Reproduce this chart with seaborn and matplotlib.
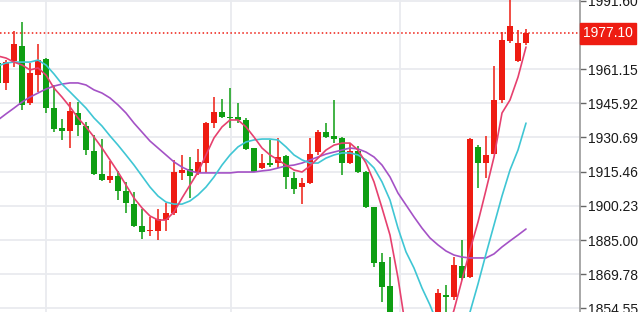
import matplotlib
matplotlib.use("Agg")
import matplotlib.pyplot as plt
import matplotlib.transforms as mtransforms
import numpy as np
import pandas as pd
import seaborn as sns

# ---------------- data ----------------
opens = [1963.9, 1955.0, 1964.8, 1971.5, 1946.1, 1958.5, 1965.7, 1943.8, 1934.9, 1933.6,
         1941.6, 1935.8, 1924.7, 1914.4, 1911.7, 1913.5, 1906.8, 1901.0, 1891.2, 1889.0,
         1889.0, 1893.9, 1897.0, 1914.9, 1916.6, 1914.9, 1919.3, 1937.1, 1942.0, 1939.8,
         1939.8, 1938.5, 1926.0, 1917.1, 1919.3, 1919.3, 1922.4, 1912.6, 1908.6, 1910.4,
         1924.2, 1933.1, 1931.4, 1930.5, 1919.3, 1924.7, 1915.3, 1899.7, 1875.2, 1864.5,
         1845.0, 1836.0, 1829.0, 1833.0, 1828.0, 1847.1, 1860.5, 1859.6, 1873.4, 1868.5,
         1926.5, 1919.3, 1923.3, 1947.4, 1973.7, 1964.8, 1972.8]
highs = [1965.2, 1965.2, 1978.2, 1982.2, 1963.9, 1972.4, 1966.1, 1954.1, 1938.9, 1946.5,
         1946.5, 1937.6, 1931.8, 1930.0, 1920.2, 1915.8, 1910.9, 1906.4, 1898.8, 1895.3,
         1898.8, 1901.5, 1920.7, 1922.9, 1922.0, 1925.6, 1937.6, 1948.7, 1947.8, 1952.7,
         1946.1, 1939.4, 1926.0, 1923.3, 1929.6, 1930.5, 1922.9, 1915.3, 1912.6, 1930.5,
         1934.0, 1937.1, 1947.4, 1930.9, 1928.2, 1926.9, 1915.8, 1899.7, 1879.2, 1877.4,
         1849.0, 1840.0, 1838.0, 1836.0, 1848.0, 1863.2, 1864.9, 1877.4, 1885.0, 1930.5,
         1927.3, 1931.4, 1962.6, 1977.7, 1994.0, 1978.6, 1979.0]
lows = [1953.6, 1951.9, 1962.1, 1942.9, 1945.2, 1951.0, 1941.6, 1933.1, 1929.6, 1926.0,
        1931.4, 1922.9, 1914.0, 1911.3, 1910.4, 1902.8, 1897.0, 1890.8, 1885.4, 1886.8,
        1885.0, 1889.0, 1896.1, 1911.7, 1903.7, 1914.0, 1914.9, 1934.9, 1939.4, 1934.9,
        1937.1, 1925.1, 1915.3, 1916.6, 1917.5, 1917.1, 1907.7, 1905.5, 1901.0, 1910.0,
        1922.9, 1930.5, 1928.2, 1914.0, 1918.9, 1914.9, 1899.3, 1873.0, 1857.4, 1842.7,
        1832.0, 1825.0, 1826.0, 1824.0, 1826.0, 1844.9, 1851.6, 1858.3, 1867.2, 1868.1,
        1908.2, 1912.6, 1923.3, 1946.1, 1972.8, 1964.3, 1971.9]
closes = [1955.0, 1964.3, 1972.4, 1945.2, 1959.4, 1965.2, 1943.8, 1934.5, 1933.6, 1942.5,
          1936.3, 1925.1, 1914.4, 1911.7, 1913.5, 1906.8, 1901.5, 1891.2, 1888.6, 1889.5,
          1894.4, 1897.0, 1915.3, 1916.2, 1913.5, 1919.8, 1937.1, 1942.0, 1939.8, 1939.2,
          1938.5, 1925.6, 1915.3, 1919.3, 1918.4, 1922.0, 1913.1, 1907.7, 1910.4, 1923.3,
          1933.1, 1930.9, 1930.0, 1919.3, 1924.7, 1915.3, 1899.7, 1874.7, 1864.0, 1844.9,
          1836.0, 1829.0, 1833.0, 1828.0, 1846.0, 1861.4, 1859.6, 1873.9, 1868.1, 1930.0,
          1919.3, 1922.9, 1947.4, 1974.1, 1980.4, 1972.8, 1977.1]

ma_fast = [1967.0, 1966.1, 1964.3, 1963.0, 1960.8, 1961.7, 1958.5, 1952.7, 1948.7, 1944.3,
           1939.4, 1935.4, 1930.9, 1926.0, 1920.7, 1915.3, 1909.5, 1903.7, 1899.3, 1895.7,
           1893.9, 1893.9, 1897.5, 1903.7, 1909.5, 1915.3, 1922.9, 1930.5, 1935.4, 1938.5,
           1938.5, 1935.4, 1930.9, 1926.0, 1922.9, 1920.7, 1918.4, 1916.2, 1915.3, 1918.0,
           1921.5, 1925.1, 1927.3, 1928.2, 1928.2, 1925.1, 1919.3, 1910.9, 1899.3, 1887.2,
           1868.1, 1844.9, 1836.0, 1831.5, 1831.5, 1836.0, 1842.7, 1853.8, 1867.2, 1880.5,
           1893.0, 1907.3, 1922.0, 1941.6, 1947.4, 1957.6, 1971.0]
ma_mid = [1962.6, 1963.9, 1964.3, 1964.3, 1964.3, 1965.2, 1963.0, 1959.0, 1954.5, 1951.0,
          1947.4, 1943.8, 1939.4, 1935.8, 1931.4, 1927.3, 1922.9, 1918.4, 1913.5, 1908.6,
          1904.6, 1901.9, 1901.0, 1901.0, 1902.4, 1905.1, 1908.6, 1913.1, 1918.4, 1922.9,
          1926.5, 1928.7, 1929.6, 1930.0, 1930.0, 1929.6, 1926.5, 1922.9, 1920.7, 1919.3,
          1919.3, 1921.5, 1922.9, 1923.8, 1923.8, 1922.9, 1920.7, 1917.1, 1910.9, 1902.8,
          1890.3, 1879.7, 1872.5, 1863.6, 1856.0, 1847.1, 1841.3, 1840.4, 1844.9, 1852.9,
          1865.4, 1878.8, 1891.7, 1904.6, 1916.2, 1925.1, 1937.1]
ma_slow = [1938.5, 1941.2, 1943.8, 1946.5, 1948.7, 1950.5, 1952.3, 1953.6, 1954.5, 1955.0,
           1955.0, 1954.1, 1951.9, 1950.5, 1948.3, 1945.2, 1941.6, 1937.1, 1933.1, 1929.1,
           1926.0, 1922.9, 1919.8, 1917.5, 1915.8, 1914.9, 1914.9, 1914.9, 1914.9, 1914.9,
           1915.3, 1915.3, 1915.3, 1915.8, 1916.2, 1917.1, 1918.0, 1918.4, 1919.3, 1920.7,
           1922.0, 1923.3, 1924.2, 1925.1, 1926.0, 1925.6, 1924.2, 1922.0, 1918.4, 1913.1,
           1905.9, 1900.6, 1895.3, 1890.3, 1885.9, 1882.8, 1880.1, 1878.3, 1877.4, 1877.0,
           1877.0, 1877.0, 1878.8, 1881.9, 1884.6, 1887.2, 1889.9]

tick_values = [1854.55, 1869.78, 1885.00, 1900.23, 1915.46, 1930.69, 1945.92, 1961.15, 1991.60]
tick_labels = ["1854.55", "1869.78", "1885.00", "1900.23", "1915.46", "1930.69",
               "1945.92", "1961.15", "1991.60"]
last_price = 1977.10
last_label = "1977.10"

# ---------------- styling ----------------
UP = "#ee1c12"
DOWN = "#0e9e12"
C_FAST = "#e6406e"
C_MID = "#3fc6d4"
C_SLOW = "#a452c6"
GRID = "#e9ebef"

sns.set_style("white")
plt.rcParams["font.family"] = ["Liberation Sans", "DejaVu Sans"]

fig = plt.figure(figsize=(6.38, 3.12), dpi=100)
ax = fig.add_axes([0, 0, 580 / 638, 1])

n = len(opens)
idx = np.arange(n)
o = np.array(opens); c = np.array(closes)
h = np.array(highs); l = np.array(lows)
up = c >= o
cols = np.where(up, UP, DOWN)

# grid
for v in tick_values:
    ax.axhline(v, color=GRID, lw=1.3, zorder=0)
for gx in [6.0, 29.1, 50.25]:
    ax.axvline(gx, color=GRID, lw=1.3, zorder=0)

# candles
ax.vlines(idx, l, h, colors=cols, lw=1.1, zorder=2)
body_lo = np.minimum(o, c)
body_h = np.maximum(np.abs(c - o), 0.5)
ax.bar(idx, body_h, bottom=body_lo, width=0.72, color=cols, linewidth=0, zorder=2)

# moving averages through seaborn
df = pd.DataFrame({
    "i": np.concatenate([idx, idx, idx]),
    "v": np.concatenate([ma_slow, ma_mid, ma_fast]),
    "ma": ["slow"] * n + ["mid"] * n + ["fast"] * n,
})
sns.lineplot(data=df, x="i", y="v", hue="ma",
             palette={"slow": C_SLOW, "mid": C_MID, "fast": C_FAST},
             lw=1.2, legend=False, ax=ax, zorder=3)

# current price
ax.axhline(last_price, color=UP, lw=1.1, ls=(0, (1, 1.6)), zorder=4)

ax.set_xlim(0.25, 72.75)
ax.set_ylim(1852.91, 1991.97)
ax.set_xlabel("")
ax.set_ylabel("")
ax.set_xticks([])
ax.yaxis.tick_right()
ax.set_yticks(tick_values)
ax.set_yticklabels(tick_labels)
ax.tick_params(axis="y", which="both", right=True, length=4, width=1,
               color="#666666", labelsize=10, labelcolor="#1a1a1a", pad=2)
for s in ["top", "left", "bottom"]:
    ax.spines[s].set_visible(False)
ax.spines["right"].set_color("#9a9a9a")
ax.spines["right"].set_linewidth(1.2)

trans = mtransforms.blended_transform_factory(ax.transAxes, ax.transData)
ax.text(1.0 + 3 / 580, last_price, last_label, transform=trans, ha="left", va="center",
        fontsize=10, color="white", zorder=6, clip_on=False,
        bbox=dict(boxstyle="square,pad=0.25", facecolor=UP, edgecolor=UP))

fig.savefig("out.png", dpi=100)
